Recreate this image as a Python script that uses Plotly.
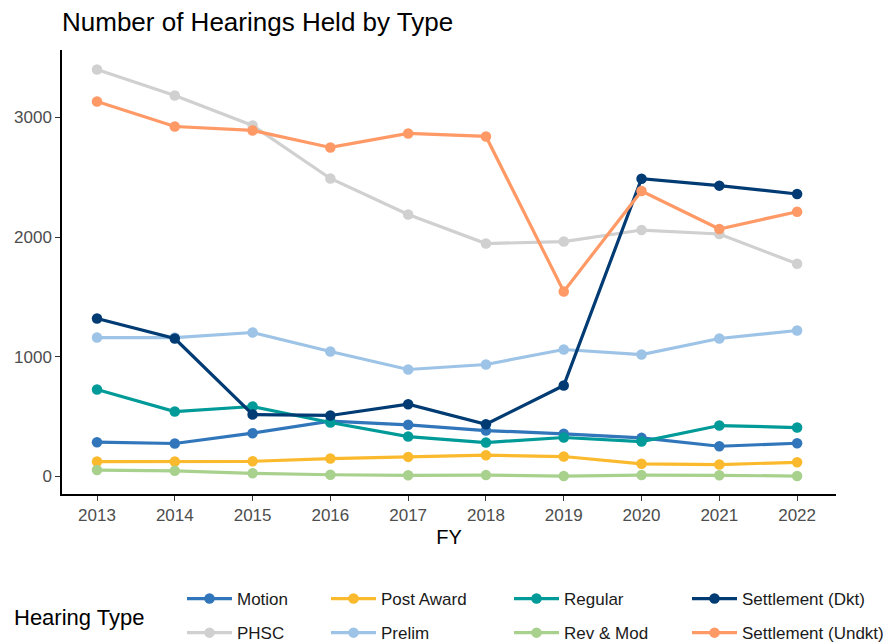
import plotly.graph_objects as go

years = [2013, 2014, 2015, 2016, 2017, 2018, 2019, 2020, 2021, 2022]

motion = [287, 276, 362, 462, 432, 384, 357, 323, 253, 278]
phsc = [3400, 3183, 2932, 2490, 2189, 1946, 1963, 2059, 2026, 1777]
post_award = [125, 125, 127, 150, 164, 178, 167, 106, 100, 119]
prelim = [1161, 1161, 1203, 1044, 894, 936, 1061, 1019, 1153, 1220]
regular = [727, 543, 585, 451, 334, 284, 326, 292, 426, 409]
rev_mod = [54, 48, 27, 15, 10, 12, 4, 12, 10, 4]
settle_dkt = [1320, 1153, 518, 510, 604, 437, 760, 2488, 2430, 2360]
settle_undkt = [3133, 2924, 2891, 2749, 2866, 2841, 1546, 2385, 2068, 2212]

series = [
    ("Motion", motion, "#3176BA", "legend"),
    ("PHSC", phsc, "#D0D0D0", "legend"),
    ("Post Award", post_award, "#FBBA2D", "legend2"),
    ("Prelim", prelim, "#9DC3E6", "legend2"),
    ("Regular", regular, "#009B98", "legend3"),
    ("Rev & Mod", rev_mod, "#A9D18E", "legend3"),
    ("Settlement (Dkt)", settle_dkt, "#003B73", "legend4"),
    ("Settlement (Undkt)", settle_undkt, "#FF9966", "legend4"),
]

fig = go.Figure()
for name, vals, col, lg in series:
    fig.add_trace(go.Scatter(
        x=years, y=vals, name=name, mode="lines+markers",
        line=dict(color=col, width=3.2),
        marker=dict(color=col, size=10.5),
        legend=lg, legendgroup=name,
    ))

font = "Liberation Sans, Arial, sans-serif"
leg_common = dict(
    orientation="v", xref="container", yref="container",
    xanchor="left", yanchor="top", y=1 - 581 / 644,
    font=dict(family=font, size=17, color="#1a1a1a"),
    itemwidth=45, tracegroupgap=9, bgcolor="rgba(0,0,0,0)",
)
xs = [182, 326, 509, 687]
fig.update_layout(
    width=886, height=644,
    plot_bgcolor="white", paper_bgcolor="white",
    margin=dict(l=62, r=50, t=50, b=150, autoexpand=False),
    font=dict(family=font, size=17, color="#4d4d4d"),
    title=dict(text="Number of Hearings Held by Type", x=62 / 886, xanchor="left",
               xref="container", yref="container", y=1 - 22 / 644, yanchor="middle",
               pad=dict(l=0, r=0, t=0, b=0),
               font=dict(family=font, size=26, color="black")),
    legend=dict(x=xs[0] / 886, **leg_common),
    legend2=dict(x=xs[1] / 886, **leg_common),
    legend3=dict(x=xs[2] / 886, **leg_common),
    legend4=dict(x=xs[3] / 886, **leg_common),
    xaxis=dict(range=[2012.55, 2022.5], tickmode="array", tickvals=years,
               ticktext=[str(y) for y in years],
               showline=True, linecolor="black", linewidth=1.5, mirror=False,
               ticks="outside", ticklen=5, tickcolor="#333333", tickwidth=1,
               showgrid=False, zeroline=False,
               tickfont=dict(family=font, size=17, color="#4d4d4d"),
               title=dict(text="FY", font=dict(family=font, size=20, color="black"), standoff=6)),
    yaxis=dict(range=[-146, 3563], tickvals=[0, 1000, 2000, 3000],
               showline=True, linecolor="black", linewidth=1.5,
               ticks="outside", ticklen=5, tickcolor="#333333", tickwidth=1,
               showgrid=False, zeroline=False,
               tickfont=dict(family=font, size=17, color="#4d4d4d")),
    annotations=[dict(text="Hearing Type", xref="paper", yref="paper",
                      x=(12 - 62) / 774, y=(494 - 617) / 444, xanchor="left", yanchor="middle",
                      showarrow=False, font=dict(family=font, size=22, color="black"))],
)

fig.write_html("out.html", config={"displayModeBar": False},
               post_script="document.body.style.margin='0px';document.body.style.padding='0px';")
